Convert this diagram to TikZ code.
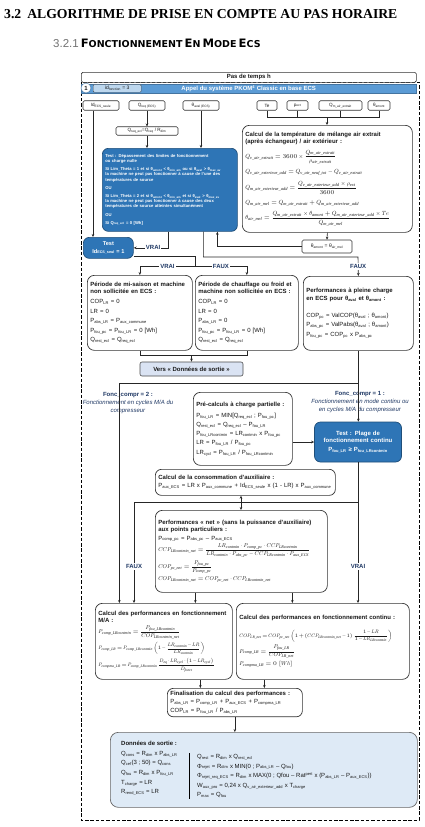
\RequirePackage{fix-cm}
\documentclass[tikz,border=0pt]{standalone}
\usepackage{amsmath}
\usepackage{fontspec}
\setmainfont{Liberation Sans}
\newfontfamily\titlefont{Liberation Serif}
\newfontfamily\mathsubfont{Liberation Serif}
\newfontfamily\subtitlefont{DejaVu Sans}
\usetikzlibrary{arrows.meta, positioning, calc}

\DeclareFontShape{OML}{cmm}{m}{it}{<->cmmi10}{}
\DeclareFontShape{OMS}{cmsy}{m}{n}{<->cmsy10}{}
\DeclareMathSizes{4.2}{4.2}{2.9}{2.4}
\DeclareMathSizes{4.6}{4.6}{3.2}{2.6}
\DeclareMathSizes{5}{5}{3.3}{2.6}
\DeclareMathSizes{5.5}{5.5}{3.7}{2.8}
\DeclareMathSizes{5.6}{5.6}{3.7}{2.8}
\DeclareMathSizes{6}{6}{4}{3}

\definecolor{barblue}{RGB}{91,155,213}
\definecolor{testblue}{RGB}{46,117,182}
\definecolor{testedge}{RGB}{31,78,121}
\definecolor{idblue}{RGB}{189,215,238}
\definecolor{versfill}{RGB}{218,227,243}
\definecolor{outfill}{RGB}{222,234,246}
\definecolor{navy}{RGB}{31,56,100}
\newcommand{\sub}[1]{\textsubscript{#1}}
\newcommand{\mssize}{4.4}
\newcommand{\ms}[1]{_{\mbox{\fontsize{\mssize}{\mssize}\selectfont\mathsubfont\itshape #1}}}
\newcommand{\fml}[1]{{\fontsize{6}{7}\selectfont$#1$}}
\newcommand{\fmls}[1]{{\def\mssize{4.1}\fontsize{5.6}{6.6}\selectfont$#1$}}
\newcommand{\fmlt}[1]{{\def\mssize{3.7}\fontsize{5}{6}\selectfont\medmuskip=2mu\thickmuskip=3mu$#1$}}
\newcommand{\sccap}[2]{{\fontsize{11.6}{12}\selectfont #1}{\fontsize{9.5}{12}\selectfont #2}}

\begin{document}
\begin{tikzpicture}[x=1pt, y=-1pt,
    >={Stealth[length=3pt,width=2.6pt]},
    every node/.style={font=\fontsize{6}{7.2}\selectfont, text=black!90},
    flow/.style={line width=0.6pt, draw=black!85},
    arrow/.style={flow, ->},
    rbox/.style={draw=black!80, line width=0.7pt, rounded corners=7pt, fill=white,
                 anchor=north west, align=left, inner sep=3pt},
    inbox/.style={draw=black!80, line width=0.6pt, rounded corners=1.5pt, fill=white,
                  minimum height=9.5pt, inner sep=0.5pt, font=\fontsize{4.6}{5.5}\selectfont},
    testbox/.style={draw=testedge, line width=0.7pt, fill=testblue, rounded corners=6pt,
                    text=white, font=\fontsize{4.2}{5.2}\selectfont\bfseries},
    yesno/.style={font=\fontsize{6}{7}\selectfont\bfseries, text=navy, fill=white, inner sep=1.2pt},
    comprlabel/.style={text=navy, align=center, inner sep=0pt}
  ]
  \fill[white] (0,0) rectangle (424,827);
  \useasboundingbox (0,0) rectangle (424,827);

  % Section headings
  \node[anchor=west, inner sep=0pt, text=black,
        font=\titlefont\bfseries\fontsize{13.7}{15}\selectfont] (title) at (4,14)
    {3.2\hspace{6pt}ALGORITHME DE PRISE EN COMPTE AU PAS HORAIRE};
  \node[anchor=west, inner sep=0pt, text=black] (subtitle) at (53,43)
    {{\color{black!55}\fontsize{11.5}{12}\selectfont 3.2.1}\hspace{2pt}{\subtitlefont\bfseries
     \sccap{F}{ONCTIONNEMENT} \sccap{E}{N} \sccap{M}{ODE} \sccap{E}{CS}}};

  % Dashed frame
  \draw[line width=0.7pt, dash pattern=on 3.5pt off 1.8pt] (81,82) rectangle (419,820);

  % Time step and call bar
  \node[draw=black!80, line width=0.7pt, rounded corners=1.5pt, fill=white, anchor=north west,
        minimum width=335pt, minimum height=10pt, inner sep=0pt,
        font=\fontsize{6}{7}\selectfont\bfseries] (timestep) at (81,72) {Pas de temps h};
  \node[fill=barblue, draw=barblue!75!black, anchor=north west, minimum width=335pt,
        minimum height=8.5pt, inner sep=0pt, text=white,
        font=\fontsize{6}{7}\selectfont\bfseries] (callbar) at (81,84)
    {Appel du système PKOM\textsuperscript{4} Classic en base ECS};
  \node[circle, draw=barblue!75!black, fill=white, minimum size=10pt, inner sep=0pt,
        font=\fontsize{6}{7}\selectfont\bfseries] (stepone) at (86,88) {1};
  \node[draw=black!70, fill=idblue, rounded corners=1pt, anchor=north west, minimum width=48pt,
        minimum height=7.5pt, inner sep=0pt, font=\fontsize{5}{6}\selectfont] (idfct) at (93,84.5)
    {id\sub{fonction} = 3};

  % Inputs
  \node[inbox, minimum width=36pt] (idecs) at (101,105.5) {Id\sub{ECS\_seule}};
  \node[inbox, minimum width=36pt] (qreq) at (147,105.5) {Q\sub{req (ECS)}};
  \node[inbox, minimum width=36pt] (thaval) at (201,105.5) {θ\sub{aval (ECS)}};
  \node[inbox, minimum width=20pt] (te) at (267,105.5) {Te};
  \node[inbox, minimum width=21pt] (rhoext) at (297.5,105.5) {ρ\sub{ext}};
  \node[inbox, minimum width=43pt] (qmext) at (340.5,105.5) {Q\sub{m\_air\_extrait}};
  \node[inbox, minimum width=22pt] (thamont) at (379,105.5) {θ\sub{amont}};
  \node[inbox, minimum width=62pt, minimum height=8.5pt] (qecl) at (147,131)
    {Q\sub{req\_ecl}=Q\sub{req} / R\sub{dim}};

  % Mixing temperature
  \node[rbox, text width=164pt, minimum height=107pt] (calctemp) at (242,125)
    {\textbf{Calcul de la température de mélange air extrait}\\
     \textbf{(après échangeur) / air extérieur :}\\[4pt]
     \fml{Q\ms{v\_air\_extrait} = 3600 \times \dfrac{Q\ms{m\_air\_extrait}}{\rho\ms{air\_extrait}}}\\[5pt]
     \fml{Q\ms{v\_air\_exterieur\_add} = Q\ms{v\_air\_neuf\_tot} - Q\ms{v\_air\_extrait}}\\[5pt]
     \fml{Q\ms{m\_air\_exterieur\_add} = \dfrac{Q\ms{v\_air\_exterieur\_add} \times \rho\ms{ext}}{3600}}\\[5pt]
     \fml{Q\ms{m\_air\_mel} = Q\ms{m\_air\_extrait} + Q\ms{m\_air\_exterieur\_add}}\\[5pt]
     \fml{\theta\ms{air\_mel} = \dfrac{Q\ms{m\_air\_extrait} \times \theta\ms{amont} + Q\ms{m\_air\_exterieur\_add} \times Te}{Q\ms{m\_air\_mel}}}};
  \node[inbox, minimum width=50pt, minimum height=13pt, font=\fontsize{5}{6}\selectfont] (thmel)
    at (327,246.5) {θ\sub{amont} = θ\sub{air\_mel}};

  % Limit test
  \node[testbox, anchor=north west, align=left, text width=129pt, minimum height=83pt,
        inner sep=3pt] (limtest) at (102,148)
    {Test : Dépassement des limites de fonctionnement\\ ou charge nulle\\[3pt]
     Si Lim\_Theta = 1 et si θ\sub{amont} < θ\sub{min\_am} ou si θ\sub{aval} > θ\sub{max\_av}\\
     la machine ne peut pas fonctionner à cause de l'une des\\ températures de source\\[3pt]
     OU\\[3pt]
     Si Lim\_Theta = 2 et si θ\sub{amont} < θ\sub{min\_am} et si θ\sub{aval} > θ\sub{max\_av}\\
     la machine ne peut pas fonctionner à cause des deux\\ températures de source atteintes simultanément\\[3pt]
     OU\\[3pt]
     Si Q\sub{req\_ecl} = 0 [Wh]};
  \node[testbox, anchor=north west, align=center, minimum width=50pt, minimum height=21pt,
        inner sep=1pt, font=\fontsize{5.6}{6.4}\selectfont\bfseries] (ecstest) at (83,237)
    {Test\\[1.5pt] Id\sub{ECS\_seul} = 1};

  % Three cases
  \node[rbox, text width=99pt, minimum height=75pt] (misaison) at (87,275)
    {\textbf{Période de mi-saison et machine}\\ \textbf{non sollicitée en ECS :}\\[3pt]
     COP\sub{LR} = 0\\[2.3pt] LR = 0\\[2.3pt] P\sub{abs\_LR} = P\sub{aux\_commune}\\[2.3pt]
     P\sub{fou\_pc} = P\sub{fou\_LR} = 0 [Wh]\\[2.3pt] Q\sub{rest\_ecl} = Q\sub{req\_ecl}};
  \node[rbox, text width=97pt, minimum height=75pt] (chauffage) at (195,275)
    {\textbf{Période de chauffage ou froid et}\\ \textbf{machine non sollicitée en ECS :}\\[3pt]
     COP\sub{LR} = 0\\[2.3pt] LR = 0\\[2.3pt] P\sub{abs\_LR} = 0\\[2.3pt]
     P\sub{fou\_pc} = P\sub{fou\_LR} = 0 [Wh]\\[2.3pt] Q\sub{rest\_ecl} = Q\sub{req\_ecl}};
  \node[rbox, text width=104pt, minimum height=74pt] (pleine) at (303,276)
    {\textbf{Performances à pleine charge}\\ \textbf{en ECS pour θ\sub{aval} et θ\sub{amont} :}\\[10pt]
     COP\sub{pc} = ValCOP(θ\sub{aval} ; θ\sub{amont})\\[2.3pt]
     P\sub{abs\_pc} = ValPabs(θ\sub{aval} ; θ\sub{amont})\\[2.3pt]
     P\sub{fou\_pc} = COP\sub{pc} x P\sub{abs\_pc}\\[8pt]};
  \node[draw=black!70, line width=0.6pt, fill=versfill, rounded corners=2pt, minimum width=103pt,
        minimum height=14pt, inner sep=0pt, font=\fontsize{6}{7}\selectfont\bfseries] (vers)
    at (191.5,369) {Vers « Données de sortie »};

  % Part load
  \node[comprlabel] (foncdeux) at (128,403)
    {\textbf{Fonc\_compr = 2 :}\\[1pt] \textit{Fonctionnement en cycles M/A du}\\ \textit{compresseur}};
  \node[comprlabel] (foncun) at (360,402)
    {\textbf{Fonc\_compr = 1 :}\\[1pt] \textit{Fonctionnement en mode continu ou}\\ \textit{en cycles M/A du compresseur}};
  \node[rbox, text width=93pt, minimum height=73pt] (precalc) at (193,392)
    {\textbf{Pré-calculs à charge partielle :}\\[4pt]
     P\sub{fou\_LR} = MIN[Q\sub{req\_ecl} ; P\sub{fou\_pc}]\\[2pt]
     Q\sub{rest\_ecl} = Q\sub{req\_ecl} – P\sub{fou\_LR}\\[2pt]
     P\sub{fou\_LRcontmin} = LR\sub{contmin} x P\sub{fou\_pc}\\[2pt]
     LR = P\sub{fou\_LR} / P\sub{fou\_pc}\\[2pt]
     LR\sub{cycl} = P\sub{fou\_LR} / P\sub{fou\_LRcontmin}};
  \node[testbox, align=center, text width=84pt, minimum width=87pt, minimum height=40pt,
        inner sep=1.5pt, font=\fontsize{6}{7.2}\selectfont\bfseries] (plage) at (358,442)
    {Test : Plage de\\ fonctionnement continu\\[2pt] P\sub{fou\_LR} ≥ P\sub{fou\_LRcontmin}};
  \node[rbox, rounded corners=6pt, text width=174pt, minimum height=26pt] (aux) at (155,469)
    {\textbf{Calcul de la consommation d'auxiliaire :}\\[1pt]
     P\sub{aux\_ECS} = LR x P\sub{aux\_commune} + Id\sub{ECS\_seule} x (1 - LR) x P\sub{aux\_commune}};
  \node[rbox, text width=166pt, minimum height=82pt] (perfnet) at (155,510)
    {\textbf{Performances « net » (sans la puissance d'auxiliaire)}\\ \textbf{aux points particuliers :}\\[1pt]
     P\sub{comp\_pc} = P\sub{abs\_pc} – P\sub{aux\_ECS}\\[1pt]
     \fmls{CCP\ms{LRcontmin\_net} = \dfrac{LR\ms{contmin}\cdot P\ms{comp\_pc}\cdot CCP\ms{LRcontmin}}{LR\ms{contmin}\cdot P\ms{abs\_pc} - CCP\ms{LRcontmin}\cdot P\ms{aux\_ECS}}}\\[2pt]
     \fmls{COP\ms{pc\_net} = \dfrac{P\ms{fou\_pc}}{P\ms{comp\_pc}}}\\[2pt]
     \fmls{COP\ms{LRcontmin\_net} = COP\ms{pc\_net}\cdot CCP\ms{LRcontmin\_net}}};

  % Cycling and continuous operation
  \node[rbox, text width=131pt, minimum height=76pt] (macalc) at (95,603)
    {\textbf{Calcul des performances en fonctionnement}\\ \textbf{M/A :}\\[2pt]
     \fmls{P\ms{comp\_LRcontmin} = \dfrac{P\ms{fou\_LRcontmin}}{COP\ms{LRcontmin\_net}}}\\[3pt]
     \fmlt{P\ms{comp\_LR} = P\ms{comp\_LRcontmin}\left(1 - \dfrac{LR\ms{contmin} - LR}{LR\ms{contmin}}\right)}\\[3pt]
     \fmlt{P\ms{compma\_LR} = P\ms{comp\_LRcontmin}\,\dfrac{D\ms{eq}\cdot LR\ms{cycl}\cdot\left(1 - LR\ms{cycl}\right)}{D\ms{fonct}}}};
  \node[rbox, text width=167pt, minimum height=76pt] (contcalc) at (236,603)
    {\textbf{Calcul des performances en fonctionnement continu :}\\[8pt]
     \fmlt{COP\ms{LR\_net} = COP\ms{pc\_net}\left(1 + \left(CCP\ms{LRcontmin\_net} - 1\right)\dfrac{1 - LR}{1 - LR\ms{LRcontmin}}\right)}\\[2pt]
     \fmls{P\ms{comp\_LR} = \dfrac{P\ms{fou\_LR}}{COP\ms{LR\_net}}}\\[2pt]
     \fmls{P\ms{compma\_LR} = 0\ [Wh]}\\[5pt]};
  \node[rbox, rounded corners=6pt, text width=129pt, minimum height=27pt] (final) at (167,688)
    {\textbf{Finalisation du calcul des performances :}\\[1pt]
     P\sub{abs\_LR} = P\sub{comp\_LR} + P\sub{aux\_ECS} + P\sub{compma\_LR}\\[1pt]
     COP\sub{LR} = P\sub{fou\_LR} / P\sub{abs\_LR}};

  % Outputs
  \node[draw=black!60, line width=0.7pt, fill=outfill, rounded corners=8pt, anchor=north west,
        minimum width=307pt, minimum height=75pt] (outbox) at (110,732) {};
  \node[anchor=north west, align=left, inner sep=0pt] (outleft) at (121,741)
    {\textbf{Données de sortie :}\\[2.5pt]
     Q\sub{cons} = R\sub{dim} x P\sub{abs\_LR}\\[2.4pt]
     Q\sub{cef}(3 ; 50) = Q\sub{cons}\\[2.4pt]
     Q\sub{fou} = R\sub{dim} x P\sub{fou\_LR}\\[2.4pt]
     T\sub{charge} = LR\\[2.4pt]
     R\sub{rend\_ECS} = LR};
  \node[anchor=north west, align=left, inner sep=0pt] (outright) at (197,754)
    {Q\sub{rest} = R\sub{dim} x Q\sub{rest\_ecl}\\[2.4pt]
     Φ\sub{rejet} = R\sub{dim} x MIN(0 ; P\sub{abs\_LR} – Q\sub{fou})\\[2.4pt]
     Φ\sub{rejet\_req\_ECS} = R\sub{dim} x MAX(0 ; Qfou – Rat\textsuperscript{pert} x (P\sub{abs\_LR} – P\sub{aux\_ECS}))\\[2.4pt]
     W\sub{aux\_pro} = 0,24 x Q\sub{v\_air\_exterieur\_add} x T\sub{charge}\\[2.4pt]
     P\sub{max} = Q\sub{fou}};
  \draw[line width=0.7pt] (189,753) -- (189,799);

  % Connectors: inputs
  \coordinate (idecsout) at ([xshift=-8pt]idecs.south);
  \draw[arrow] (idecsout) -- (idecsout |- ecstest.north);
  \draw[arrow] (qreq) -- (qecl);
  \draw[arrow] (qecl) -- (qecl |- limtest.north);
  \draw[arrow] (thaval) -- (thaval |- limtest.north);
  \coordinate (srcjoin) at (327,117);
  \draw[flow] (te.south) |- (thamont.south |- srcjoin) -- (thamont.south);
  \draw[flow] (rhoext.south) -- (rhoext.south |- srcjoin);
  \draw[flow] (qmext.south) -- (qmext.south |- srcjoin);
  \draw[arrow] (srcjoin) -- (srcjoin |- calctemp.north);
  \draw[arrow] (calctemp.south) -- (thmel.north);
  \coordinate (loopin) at ([xshift=47.5pt]limtest.south);
  \draw[arrow] (thmel.west) -| (loopin);

  % Connectors: tests
  \coordinate (vraiout) at ([xshift=-1.5pt]limtest.south);
  \draw[arrow] (vraiout) |- node[yesno, pos=0.72]{VRAI} (ecstest.east);
  \coordinate (fauxout) at ([xshift=33.5pt]limtest.south);
  \coordinate (fauxturn) at (358,257);
  \draw[arrow] (fauxout) |- (fauxturn) -- node[yesno]{FAUX} (pleine.north);
  \coordinate (ecsout) at ([yshift=-8pt]ecstest.east);
  \coordinate (ecsjoin) at (195,266);
  \draw[flow] (ecsout) -| (ecsjoin);
  \draw[arrow] (ecsjoin) -| node[yesno, pos=0.25]{VRAI} (misaison.north);
  \draw[arrow] (ecsjoin) -| node[yesno, pos=0.25]{FAUX} (chauffage.north);
  \coordinate (versjoin) at (191.5,355);
  \draw[flow] (misaison.south) |- (chauffage.south |- versjoin) -- (chauffage.south);
  \draw[arrow] (versjoin) -- (vers.north);

  % Connectors: part load
  \draw[arrow] (pleine.south) -- (pleine.south |- plage.north);
  \coordinate (comprjoin) at (358,383);
  \coordinate (mainleft) at ([xshift=-44.5pt]macalc.north);
  \draw[arrow] (comprjoin) -| (mainleft);
  \draw[arrow] (precalc.east |- plage.west) -- (plage.west);
  \coordinate (plagejoin) at (358,502);
  \coordinate (fauxma) at (134,502);
  \coordinate (netjoin) at (241,502);
  \draw[flow] (plage.south) -- (plagejoin);
  \draw[flow] (fauxma) -- (plagejoin);
  \draw[arrow] (netjoin) -- (netjoin |- aux.south);
  \draw[arrow] (netjoin) -- (netjoin |- perfnet.north);
  \draw[arrow] (fauxma) -- node[yesno, pos=0.64]{FAUX} (fauxma |- macalc.north);
  \draw[arrow] (plagejoin) -- node[yesno, pos=0.64]{VRAI} (plagejoin |- contcalc.north);
  \coordinate (netma) at ([xshift=-46pt]perfnet.south);
  \draw[arrow] (netma) -- (netma |- macalc.north);
  \coordinate (netcont) at ([xshift=51pt]perfnet.south);
  \draw[arrow] (netcont) -- (netcont |- contcalc.north);

  % Connectors: final
  \coordinate (mafin) at ([xshift=36.5pt]macalc.south);
  \draw[arrow] (mafin) -- (mafin |- final.north);
  \coordinate (contfin) at ([xshift=-58.5pt]contcalc.south);
  \draw[arrow] (contfin) -- (contfin |- final.north);
  \draw[arrow] (final.south) -- (final.south |- outbox.north);
\end{tikzpicture}
\end{document}
